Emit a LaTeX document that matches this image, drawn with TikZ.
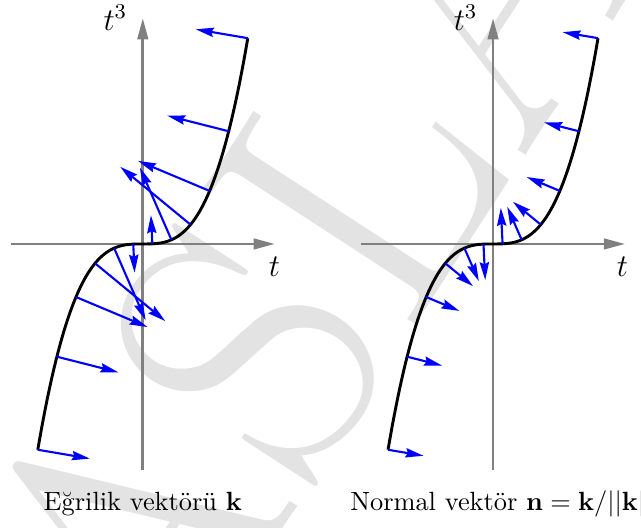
\documentclass[tikz,border=0pt]{standalone}
\usetikzlibrary{arrows.meta}
\begin{document}
\begin{tikzpicture}[
  axis/.style={draw=gray, line width=1pt, -{Triangle[length=8pt,width=4pt]}},
  curve/.style={draw=black, line width=1.1pt},
  vec/.style={draw=blue, line width=0.8pt, -{Stealth[length=6.8pt,width=3.5pt,inset=0.8pt]}},
  lab/.style={inner sep=0pt},
  axlab/.style={inner sep=0pt, font=\large},
  wmark/.style={rotate=57, anchor=base west, inner sep=0pt, text=black!11, font=\fontsize{140}{140}\selectfont},
]
\useasboundingbox (-1.904,-3.787) rectangle (6.643,3.253);
% watermark
\begin{scope}
\clip (-1.904,-3.787) rectangle (6.643,3.253);
\node[wmark] (wm) at (-1.307,-8.699) {TASLAK};
\end{scope}
% ---------- left plot ----------
\coordinate (Lxa) at (-1.76,0);
\coordinate (Lxb) at (1.76,0);
\coordinate (Lya) at (0,-3.01);
\coordinate (Lyb) at (0,3.01);
\draw[axis] (Lxa) -- (Lxb);
\draw[axis] (Lya) -- (Lyb);
\draw[curve] plot[domain=-1.4:1.4, samples=120, smooth] (\x,{\x*\x*\x});
\foreach \i in {0,...,11}{
  \pgfmathsetmacro\tt{-1.4+\i*2.8/11}
  \pgfmathsetmacro\tc{\tt*\tt*\tt}
  \pgfmathsetmacro\den{1+9*\tc*\tt}
  \pgfmathsetmacro\kx{-9*\tc/\den}
  \pgfmathsetmacro\ky{3*\tt/\den}
  \coordinate (Lp\i) at (\tt,\tc);
  \coordinate (Lk\i) at (\tt+\kx,\tc+\ky);
  \draw[vec] (Lp\i) -- (Lk\i);
}
\node[axlab, anchor=base east] (Lylab) at (-0.2,2.847) {$t^3$};
\node[axlab, anchor=base] (Lxlab) at (1.755,-0.44) {$t$};
\node[lab, anchor=base] (Lcap) at (0,-3.556) {Eğrilik vektörü $\mathbf{k}$};
% ---------- right plot ----------
\begin{scope}[xshift=4.67cm]
\coordinate (Rxa) at (-1.76,0);
\coordinate (Rxb) at (1.76,0);
\coordinate (Rya) at (0,-3.01);
\coordinate (Ryb) at (0,3.01);
\draw[axis] (Rxa) -- (Rxb);
\draw[axis] (Rya) -- (Ryb);
\draw[curve] plot[domain=-1.4:1.4, samples=120, smooth] (\x,{\x*\x*\x});
\foreach \i in {0,...,11}{
  \pgfmathsetmacro\tt{-1.4+\i*2.8/11}
  \pgfmathsetmacro\tc{\tt*\tt*\tt}
  \pgfmathsetmacro\sg{\tt/abs(\tt)}
  \pgfmathsetmacro\ss{sqrt(1+9*\tc*\tt)}
  \pgfmathsetmacro\nx{-3*\tt*\tt*\sg*0.48/\ss}
  \pgfmathsetmacro\ny{\sg*0.48/\ss}
  \coordinate (Rp\i) at (\tt,\tc);
  \coordinate (Rn\i) at (\tt+\nx,\tc+\ny);
  \draw[vec] (Rp\i) -- (Rn\i);
}
\node[axlab, anchor=base east] (Rylab) at (-0.2,2.847) {$t^3$};
\node[axlab, anchor=base] (Rxlab) at (1.725,-0.44) {$t$};
\end{scope}
\node[lab, anchor=base west] (Rcap) at (2.76,-3.556) {Normal vektör $\mathbf{n}=\mathbf{k}/||\mathbf{k}||$};
\end{tikzpicture}
\end{document}
